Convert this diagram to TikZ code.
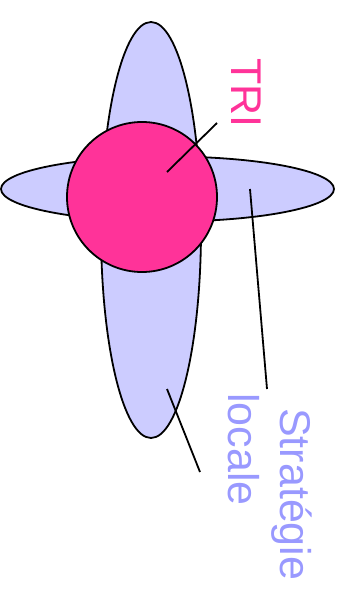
\documentclass[tikz,border=0pt]{standalone}
\usepackage{fontspec}
\setmainfont{Liberation Sans}
\usepackage{xcolor}
\usetikzlibrary{shapes.geometric}

\definecolor{petal}{HTML}{CCCCFF}
\definecolor{coeur}{HTML}{FF3399}
\definecolor{legende}{HTML}{9999FF}

\begin{document}
\begin{tikzpicture}[
  x=1pt,y=-1pt,
  blob/.style={draw,ellipse,line width=1.8pt,fill=petal,inner sep=0pt},
  lbl/.style={rotate=-90,anchor=base west,inner sep=0pt,font=\fontsize{43}{52}\selectfont},
  lead/.style={line width=1.8pt}
]
\useasboundingbox (0,0) rectangle (339,594);
\node[blob,minimum width=100pt,minimum height=416pt] (vert) at (151,230) {};
\node[blob,minimum width=333pt,minimum height=65pt] (horiz) at (167.5,189) {};
\node[draw,circle,line width=1.8pt,fill=coeur,minimum size=150pt,inner sep=0pt] (tri) at (142,197) {};
\node[lbl,text=coeur] (trilbl) at (231,58) {TRI};
\node[lbl,text=legende] (strat) at (280,408) {Stratégie};
\node[lbl,text=legende] (loc) at (228,393) {locale};
% leader lines
\coordinate (t1) at (167,172);
\coordinate (t2) at (217,123);
\coordinate (s1) at (250,189);
\coordinate (s2) at (267,389);
\coordinate (l1) at (167,389);
\coordinate (l2) at (200,472);
\draw[lead] (t1) -- (t2);
\draw[lead] (s1) -- (s2);
\draw[lead] (l1) -- (l2);
\end{tikzpicture}
\end{document}
